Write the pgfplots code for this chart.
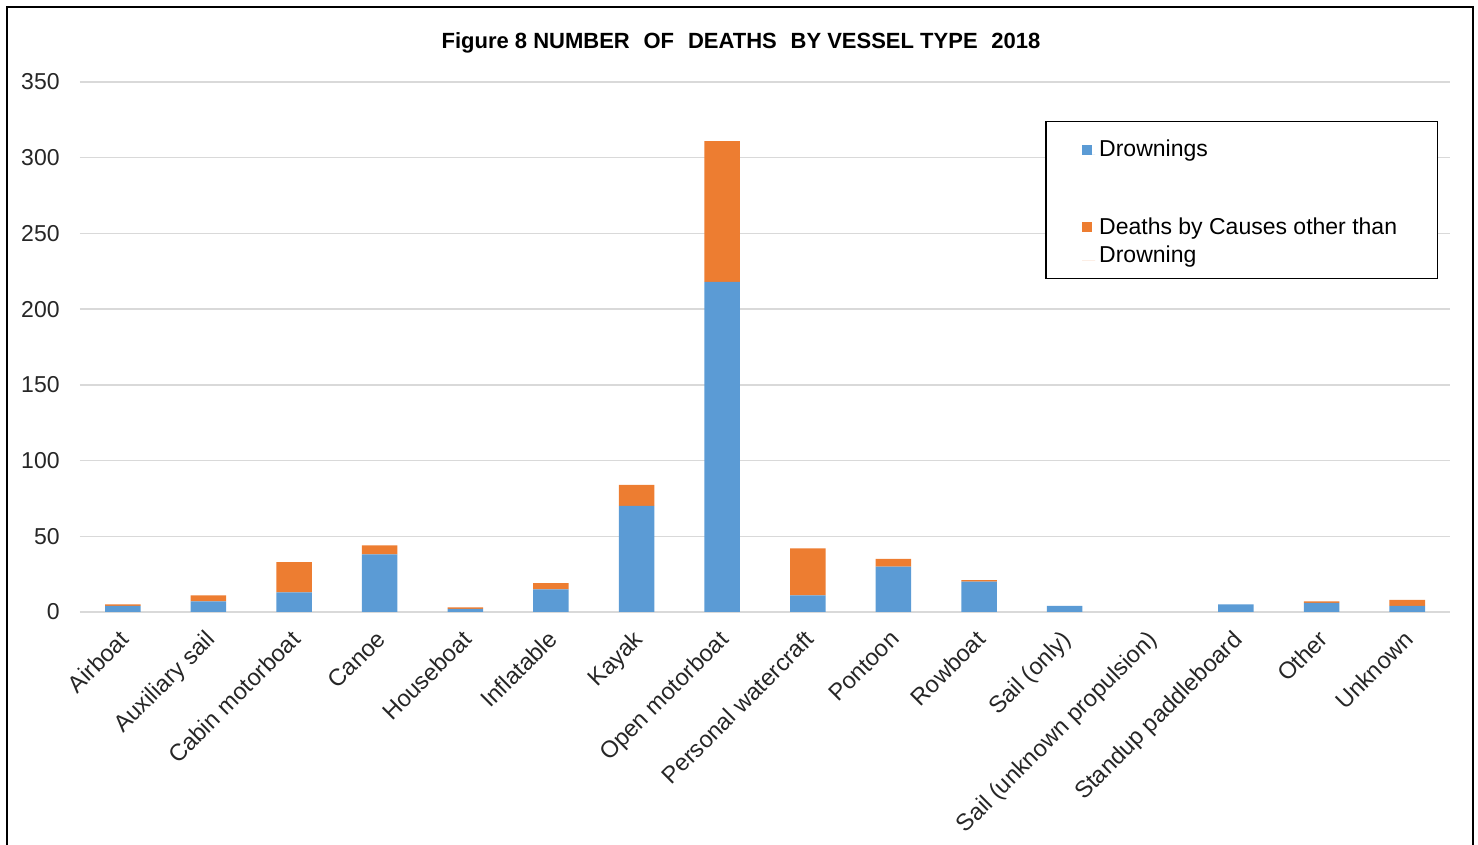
\documentclass[border=0pt]{standalone}
\usepackage{fontspec}
\setmainfont{Liberation Sans}
\usepackage{pgfplots}
\usepackage{pgfplotstable}
\pgfplotsset{compat=1.18}

\definecolor{drown}{HTML}{5B9BD5}
\definecolor{other}{HTML}{ED7D31}
\definecolor{gridc}{HTML}{D9D9D9}

% square legend images; the second one sits on the first line of a two-line entry
\pgfplotsset{
    sq legend/.style={legend image code/.code={\fill[##1] (0pt,1pt) rectangle (5pt,6pt); \path (0pt,1pt) -- (6.5pt,1pt);}},
    sq legend raised/.style={legend image code/.code={\fill[##1] (0pt,15pt) rectangle (5pt,20pt); \path (0pt,1pt) -- (6.5pt,1pt);}},
}

% deaths by vessel type, 2018
\pgfplotstableread{
x  drown other
0    4    1
1    7    4
2   13   20
3   38    6
4    2    1
5   15    4
6   70   14
7  218   93
8   11   31
9   30    5
10  20    1
11   4    0
12   0    0
13   5    0
14   6    1
15   4    4
}\deaths

\begin{document}
\begin{tikzpicture}
\useasboundingbox (0,0) rectangle (739pt,422.5pt);
\draw[line width=1pt] (3.5pt,-5pt) -- (3.5pt,419pt) -- (736.5pt,419pt) -- (736.5pt,-5pt);
\begin{axis}[
    at={(40pt,116.5pt)}, anchor=south west,
    scale only axis,
    width=685pt,
    height=265pt,
    ybar stacked,
    bar width=17.8pt,
    xmin=-0.5, xmax=15.5,
    ymin=0, ymax=350,
    ytick={0,50,...,350},
    xtick=data,
    xticklabels={Airboat, Auxiliary sail, Cabin motorboat, Canoe, Houseboat,
        Inflatable, Kayak, Open motorboat, Personal watercraft, Pontoon,
        Rowboat, Sail (only), Sail (unknown propulsion), Standup paddleboard,
        Other, Unknown},
    axis line style={draw=none},
    major tick length=0pt,
    ymajorgrids=true,
    grid style={gridc, line width=0.75pt},
    /pgf/number format/assume math mode=true,
    tick label style={text=black!85},
    yticklabel style={font=\fontsize{11.5}{13}\selectfont, inner sep=0pt, xshift=-10pt},
    xticklabel style={font=\fontsize{11.8}{13}\selectfont, xshift=-2.2pt, yshift=-8.3pt,
        rotate=45, anchor=north east, inner sep=0pt},
    title={Figure 8 NUMBER\hspace{0.35em} OF\hspace{0.35em} DEATHS\hspace{0.35em} BY VESSEL TYPE\hspace{0.35em} 2018},
    title style={at={(0.4825,1.051)}, anchor=center, font=\bfseries\fontsize{11}{13}\selectfont},
    legend style={at={(0.7044,0.9264)}, anchor=north west, draw=black, line width=0.75pt,
        font=\fontsize{11.5}{14}\selectfont, inner xsep=18.2pt, inner ysep=4.5pt,
        row sep=25pt, cells={anchor=base west, align=left}},
]
\addplot[fill=drown, draw=none, sq legend] table[x=x, y=drown] {\deaths};
\addplot[fill=other, draw=none, sq legend raised] table[x=x, y=other] {\deaths};
\legend{\rule{0pt}{11pt}Drownings, {Deaths by Causes other than\\Drowning}}
\end{axis}
\end{tikzpicture}
\end{document}
